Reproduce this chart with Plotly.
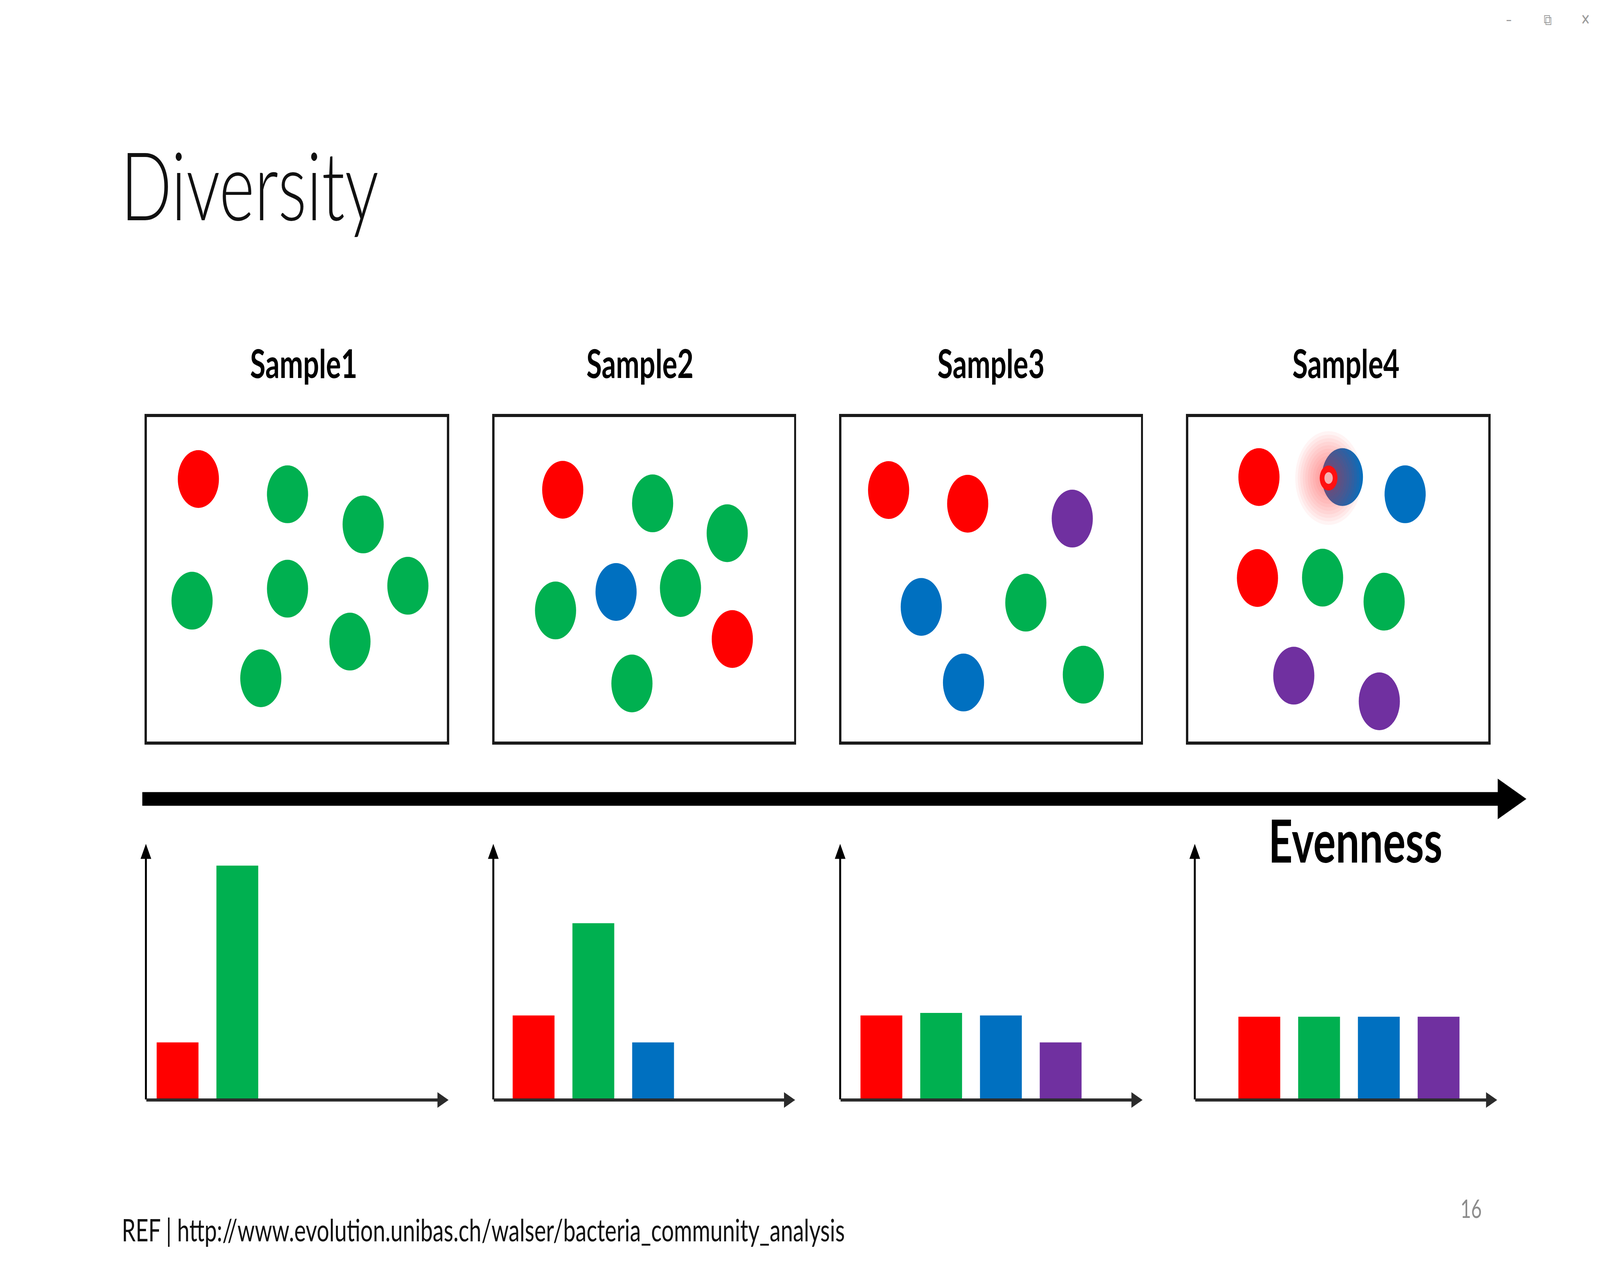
import plotly.graph_objects as go

W, H = 5757, 3237

# ---------------- data ----------------
species = ["Red", "Green", "Blue", "Purple"]
species_colors = ["#FF0000", "#00B050", "#0070C0", "#7030A0"]
samples = ["Sample1", "Sample2", "Sample3", "Sample4"]

# individuals in each sample box (box-relative position 0-100, species)
s1_dot_x = [17.2, 46.9, 72.1, 15.1, 46.9, 87.0, 67.7, 38.0]
s1_dot_y = [80.9, 76.2, 66.9, 43.4, 47.1, 48.0, 30.8, 19.5]
s1_dot_sp = ["Red", "Green", "Green", "Green", "Green", "Green", "Green", "Green"]

s2_dot_x = [22.8, 52.8, 77.7, 40.6, 62.1, 20.4, 79.4, 45.9]
s2_dot_y = [77.6, 73.4, 64.2, 46.1, 47.3, 40.4, 31.6, 17.9]
s2_dot_sp = ["Red", "Green", "Green", "Blue", "Green", "Green", "Red", "Green"]

s3_dot_x = [15.8, 42.2, 77.1, 26.7, 61.6, 40.8, 80.8]
s3_dot_y = [77.5, 73.3, 68.7, 41.5, 42.8, 18.2, 20.6]
s3_dot_sp = ["Red", "Red", "Purple", "Blue", "Green", "Blue", "Green"]

s4_dot_x = [23.6, 51.4, 72.3, 23.1, 44.8, 65.3, 35.2, 63.7]
s4_dot_y = [81.5, 81.5, 76.2, 50.4, 50.5, 43.1, 20.3, 12.4]
s4_dot_sp = ["Red", "Blue", "Blue", "Red", "Green", "Green", "Purple", "Purple"]

# relative abundance bars (per species, in order of `species`)
s1_abund = [22.5, 91.5]
s2_abund = [33.0, 69.0, 22.5]
s3_abund = [33.0, 34.0, 33.0, 22.5]
s4_abund = [32.5, 32.5, 32.5, 32.5]

# laser-pointer mark seen on Sample4 (box-relative)
pointer_x = [46.8]
pointer_y = [81.2]

title_text = "Diversity"
axis_label = "Evenness"
ref_text = "REF | http://www.evolution.unibas.ch/walser/bacteria_community_analysis"
page_no = "16"

dots = [(s1_dot_x, s1_dot_y, s1_dot_sp), (s2_dot_x, s2_dot_y, s2_dot_sp),
        (s3_dot_x, s3_dot_y, s3_dot_sp), (s4_dot_x, s4_dot_y, s4_dot_sp)]
abund = [s1_abund, s2_abund, s3_abund, s4_abund]

# ---------------- layout geometry (px) ----------------
box_left = [524, 1775, 3023, 4271]
box_right = [1612, 2861, 4109, 5359]
box_top, box_bottom = 1064, 1903
box_lw = 8

bar_left = [525, 1775, 3023, 4299]
bar_tip = [1614, 2861, 4111, 5387]
bar_bottom, bar_top = 2817, 2161
bar_start = [-0.53, -0.674, -0.69, -1.08]   # category units left of first slot
slot_px = 215.0

def px(x):
    return x / W

def py(y):
    return 1 - y / H

color_of = dict(zip(species, species_colors))

fig = go.Figure()
layout = dict(
    width=W, height=H, margin=dict(l=0, r=0, t=0, b=0),
    paper_bgcolor="white", plot_bgcolor="white", showlegend=False,
    font=dict(family="Lato", color="black"),
)

annotations = []
shapes = []

for i in range(4):
    k = i + 1
    xa, ya = f"xaxis{k}", f"yaxis{k}"
    xs, ys, sp = dots[i]
    fig.add_trace(go.Scatter(
        x=xs, y=ys, mode="markers", xaxis=f"x{k}", yaxis=f"y{k}",
        marker=dict(size=148, color=[color_of[s] for s in sp], line=dict(width=0)),
        hoverinfo="skip"))
    layout[xa] = dict(domain=[px(box_left[i] + box_lw / 2), px(box_right[i] - box_lw / 2)],
                      range=[0, 100], showline=True, mirror=True, linecolor="#1a1a1a",
                      linewidth=box_lw, showgrid=False, zeroline=False,
                      showticklabels=False, ticks="", fixedrange=True, anchor=f"y{k}")
    layout[ya] = dict(domain=[py(box_bottom - box_lw / 2), py(box_top + box_lw / 2)],
                      range=[0, 100], showline=True, mirror=True, linecolor="#1a1a1a",
                      linewidth=box_lw, showgrid=False, zeroline=False,
                      showticklabels=False, ticks="", fixedrange=True, anchor=f"x{k}")

    b = i + 5
    vals = abund[i]
    fig.add_trace(go.Bar(
        x=species[:len(vals)], y=vals, xaxis=f"x{b}", yaxis=f"y{b}",
        marker=dict(color=species_colors[:len(vals)], line=dict(width=0)),
        width=0.70, hoverinfo="skip"))
    span = (bar_tip[i] - bar_left[i]) / slot_px
    x0 = bar_start[i]
    layout[f"xaxis{b}"] = dict(domain=[px(bar_left[i]), px(bar_tip[i])], type="category",
                               categoryorder="array", categoryarray=species,
                               range=[x0, x0 + span], visible=False, fixedrange=True,
                               anchor=f"y{b}")
    layout[f"yaxis{b}"] = dict(domain=[py(bar_bottom), py(bar_top)], range=[0, 100],
                               visible=False, fixedrange=True, anchor=f"x{b}")
    annotations.append(dict(x=x0, y=100, ax=x0, ay=0, xref=f"x{b}", yref=f"y{b}",
                            axref=f"x{b}", ayref=f"y{b}", text="", showarrow=True,
                            arrowhead=2, arrowsize=1.1, arrowwidth=7, arrowcolor="#000000"))
    annotations.append(dict(x=x0 + span, y=0, ax=x0, ay=0, xref=f"x{b}", yref=f"y{b}",
                            axref=f"x{b}", ayref=f"y{b}", text="", showarrow=True,
                            arrowhead=2, arrowsize=1.0, arrowwidth=8, arrowcolor="#2b2b2b"))

# laser pointer: soft glow + ring on sample 4
for sz in range(240, 60, -18):
    fig.add_trace(go.Scatter(x=pointer_x, y=pointer_y, mode="markers", xaxis="x4", yaxis="y4",
                             marker=dict(size=sz, color="#FF2020", opacity=0.05, line=dict(width=0)),
                             hoverinfo="skip"))
fig.add_trace(go.Scatter(x=pointer_x, y=pointer_y, mode="markers", xaxis="x4", yaxis="y4",
                         marker=dict(size=64, color="#FF1010", line=dict(width=0)), hoverinfo="skip"))
fig.add_trace(go.Scatter(x=pointer_x, y=pointer_y, mode="markers", xaxis="x4", yaxis="y4",
                         marker=dict(size=30, color="#F7B0B0", line=dict(width=0)), hoverinfo="skip"))

arrow_y = 2046
shapes.append(dict(type="line", xref="paper", yref="paper", x0=px(512), x1=px(5395),
                   y0=py(arrow_y), y1=py(arrow_y), line=dict(color="black", width=35)))
shapes.append(dict(type="path", xref="paper", yref="paper",
                   path=f"M {px(5389)},{py(arrow_y - 52)} L {px(5492)},{py(arrow_y)} L {px(5389)},{py(arrow_y + 52)} Z",
                   fillcolor="black", line=dict(width=0)))

annotations.append(dict(text=title_text, x=px(432), y=py(470), xref="paper", yref="paper",
                        xanchor="left", yanchor="middle", showarrow=False,
                        font=dict(family="Lato", size=243, weight=300, color="#111111")))
label_cx = [1093, 2303, 3566, 4843]
for i, s in enumerate(samples):
    annotations.append(dict(text=s, x=px(label_cx[i]), y=py(929), xref="paper", yref="paper",
                            xanchor="center", yanchor="middle", showarrow=False,
                            font=dict(family="Lato", size=101, weight=700, color="black")))
annotations.append(dict(text=axis_label, x=px(4877), y=py(2150), xref="paper", yref="paper",
                        xanchor="center", yanchor="middle", showarrow=False,
                        font=dict(family="Lato", size=151, weight=700, color="black")))
annotations.append(dict(text=ref_text, x=px(436), y=py(3148), xref="paper", yref="paper",
                        xanchor="left", yanchor="middle", showarrow=False,
                        font=dict(family="Lato", size=79.5, color="#111111")))
annotations.append(dict(text=page_no, x=px(5293), y=py(3093), xref="paper", yref="paper",
                        xanchor="center", yanchor="middle", showarrow=False,
                        font=dict(family="Lato", size=66, color="#8c8c8c")))
for t, cx in [("\u2013", 5429), ("\u29C9", 5569), ("\u2715", 5705)]:
    annotations.append(dict(text=t, x=px(cx), y=py(50), xref="paper", yref="paper",
                            xanchor="center", yanchor="middle", showarrow=False,
                            font=dict(family="DejaVu Sans", size=40, color="#9a9a9a")))

layout["annotations"] = annotations
layout["shapes"] = shapes
fig.update_layout(**layout)

# The slide is laid out at 5757x3237; fit it to whatever viewport the browser really has.
post_js = """
(function(){
  var gd = document.getElementById('{plot_id}');
  var vw = window.innerWidth || document.documentElement.clientWidth;
  var vh = window.innerHeight || document.documentElement.clientHeight;
  var sx = vw / %d, sy = vh / %d;
  document.documentElement.style.margin = '0';
  document.documentElement.style.overflow = 'hidden';
  document.body.style.margin = '0';
  document.body.style.overflow = 'hidden';
  var wrap = gd.parentElement;
  wrap.style.width = vw + 'px';
  wrap.style.height = vh + 'px';
  wrap.style.overflow = 'hidden';
  gd.style.transformOrigin = '0 0';
  gd.style.transform = 'scale(' + sx + ',' + sy + ')';
})();
""" % (W, H)

fig.write_html("out.html", config={"displayModeBar": False, "staticPlot": True},
               post_script=post_js)
